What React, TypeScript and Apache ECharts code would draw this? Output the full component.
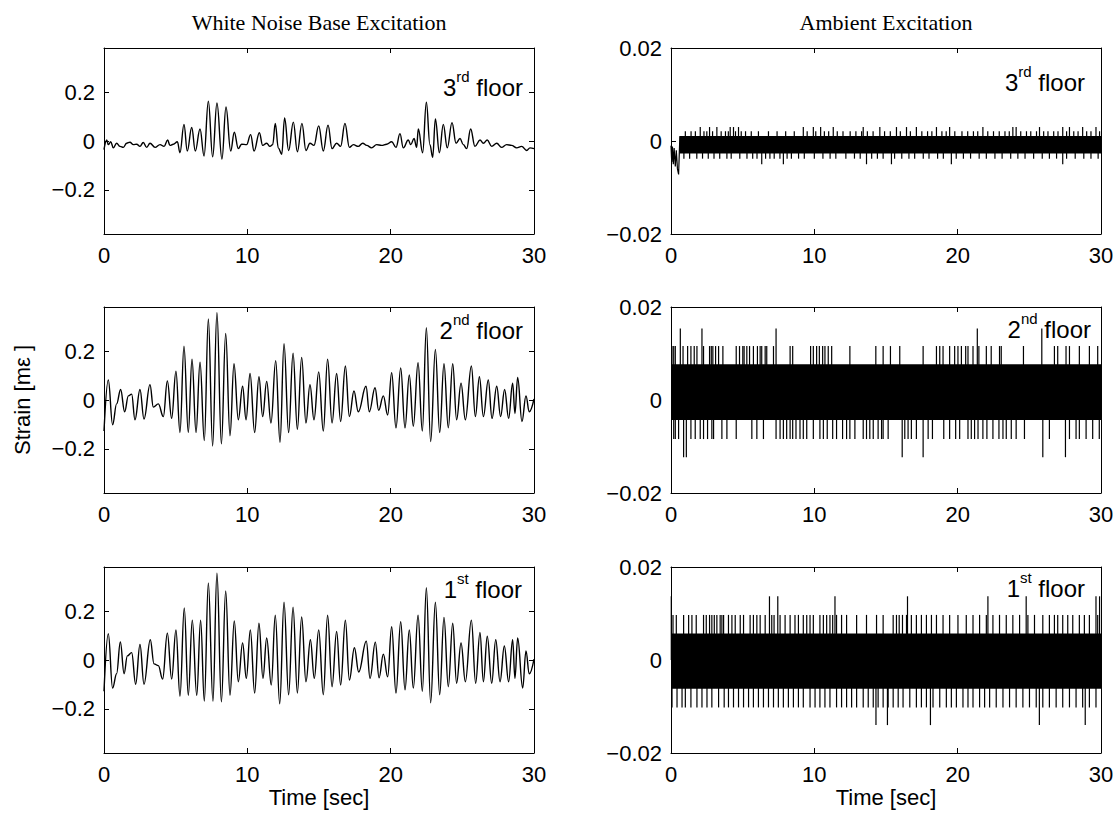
import React, { useEffect, useRef } from "react";
import * as echarts from "echarts";

const SANS = '"Liberation Sans", Arial, Helvetica, sans-serif';
const SERIF = '"Liberation Serif", "Times New Roman", Times, serif';

const timeRange = [0, 30];
const timeInterval = 10;
const baseYTicks = [-0.2, 0, 0.2];
const baseYRange = [-0.38, 0.38];
const ambientYRange = [-0.02, 0.02];
const ambientYInterval = 0.02;
const columnTitles = ["White Noise Base Excitation", "Ambient Excitation"];
const floorNames = [["3", "rd"], ["2", "nd"], ["1", "st"]];
const yAxisTitle = "Strain [m\u03b5 ]";
const xAxisTitle = "Time [sec]";

// White noise base excitation: traced turning points [time (s), strain]
const base3rd = [
  [0.0, -0.035], [0.19, 0.004], [0.3, -0.015], [0.47, -0.003], [0.65, -0.028], [0.88, -0.009], [1.12, -0.022], [1.35, -0.026],
  [1.58, -0.009], [1.81, -0.005], [2.05, -0.015], [2.28, -0.013], [2.51, -0.022], [2.74, -0.006], [2.98, -0.026], [3.21, -0.009],
  [3.56, -0.026], [3.91, -0.015], [4.19, -0.022], [4.44, 0.004], [4.6, -0.018], [4.84, -0.013], [5.12, -0.003], [5.3, -0.048],
  [5.58, 0.068], [5.81, -0.041], [6.12, 0.055], [6.37, -0.041], [6.7, 0.049], [6.98, -0.061], [7.28, 0.163], [7.58, -0.065],
  [7.88, 0.155], [8.23, -0.074], [8.51, 0.139], [8.84, -0.041], [9.09, 0.036], [9.37, -0.031], [9.6, -0.013], [9.95, -0.015],
  [10.23, 0.026], [10.47, -0.041], [10.84, 0.034], [11.07, -0.018], [11.35, -0.009], [11.58, -0.022], [11.77, -0.015], [11.95, 0.072],
  [12.16, -0.028], [12.4, -0.054], [12.6, 0.094], [12.88, -0.039], [13.21, 0.077], [13.49, -0.044], [13.81, 0.072], [14.09, -0.039],
  [14.37, -0.009], [14.65, -0.018], [14.98, 0.062], [15.3, -0.041], [15.63, 0.065], [15.91, -0.031], [16.23, -0.009], [16.51, -0.022],
  [16.81, 0.072], [17.12, -0.026], [17.4, -0.015], [17.74, -0.022], [18.05, -0.009], [18.33, -0.018], [18.67, -0.028], [19.02, -0.015],
  [19.37, -0.018], [19.72, -0.013], [20.07, -0.003], [20.37, -0.026], [20.65, 0.03], [20.88, -0.028], [21.23, 0.004], [21.4, -0.015],
  [21.63, 0.01], [21.81, -0.026], [21.93, 0.049], [22.23, -0.048], [22.49, 0.159], [22.74, -0.015], [22.93, -0.067], [23.12, 0.09],
  [23.4, -0.048], [23.67, 0.068], [23.95, -0.028], [24.28, 0.075], [24.56, -0.009], [24.84, 0.01], [25.07, -0.015], [25.3, -0.031],
  [25.58, 0.049], [25.88, -0.022], [26.23, 0.004], [26.47, -0.009], [26.74, 0.004], [27.05, -0.022], [27.4, -0.009], [27.74, -0.026],
  [28.09, -0.015], [28.44, -0.018], [28.79, -0.028], [29.14, -0.022], [29.49, -0.039], [29.72, -0.028], [30.0, -0.031],
];

const base2nd = [
  [0.0, -0.127], [0.3, 0.082], [0.6, -0.101], [0.88, -0.016], [1.16, 0.043], [1.44, -0.048], [1.7, 0.017], [1.93, 0.024],
  [2.16, -0.081], [2.51, 0.043], [2.79, -0.078], [3.21, 0.063], [3.44, -0.029], [3.79, -0.016], [4.14, -0.068], [4.42, 0.078],
  [4.72, -0.075], [5.02, 0.118], [5.3, -0.133], [5.58, 0.22], [5.88, -0.133], [6.14, 0.167], [6.42, -0.133], [6.7, 0.154],
  [7.0, -0.166], [7.28, 0.331], [7.58, -0.188], [7.88, 0.357], [8.19, -0.179], [8.49, 0.272], [8.79, -0.146], [9.07, 0.148],
  [9.37, -0.081], [9.67, 0.056], [9.91, -0.081], [10.19, 0.108], [10.51, -0.133], [10.81, 0.095], [11.07, -0.068], [11.35, 0.076],
  [11.65, -0.094], [11.98, 0.161], [12.28, -0.173], [12.56, 0.23], [12.88, -0.133], [13.19, 0.191], [13.49, -0.12], [13.79, 0.174],
  [14.09, -0.094], [14.37, 0.063], [14.65, -0.081], [14.98, 0.115], [15.3, -0.127], [15.6, 0.167], [15.91, -0.094], [16.23, 0.108],
  [16.51, -0.088], [16.84, 0.139], [17.12, -0.068], [17.44, 0.037], [17.74, -0.048], [18.28, 0.056], [18.51, -0.048], [18.91, 0.05],
  [19.16, -0.042], [19.49, 0.017], [19.79, -0.061], [20.07, 0.112], [20.37, -0.114], [20.7, 0.131], [21.0, -0.114], [21.3, 0.102],
  [21.58, -0.107], [21.91, 0.152], [22.21, -0.127], [22.49, 0.295], [22.79, -0.17], [23.12, 0.207], [23.42, -0.133], [23.72, 0.148],
  [24.02, -0.114], [24.33, 0.148], [24.6, -0.081], [24.91, 0.069], [25.21, -0.081], [25.63, 0.139], [25.91, -0.068], [26.19, 0.095],
  [26.47, -0.068], [26.81, 0.082], [27.07, -0.075], [27.4, 0.056], [27.67, -0.068], [27.95, 0.043], [28.23, -0.075], [28.51, 0.069],
  [28.67, -0.055], [28.86, 0.092], [29.16, -0.088], [29.44, 0.017], [29.67, -0.048], [30.0, 0.004],
];

const base1st = [
  [0.0, -0.128], [0.3, 0.107], [0.6, -0.115], [0.88, -0.056], [1.14, 0.074], [1.4, -0.056], [1.63, 0.017], [1.93, 0.03],
  [2.21, -0.099], [2.51, 0.064], [2.79, -0.099], [3.23, 0.083], [3.49, -0.016], [3.79, -0.023], [4.09, -0.078], [4.42, 0.11],
  [4.72, -0.078], [5.02, 0.123], [5.3, -0.148], [5.6, 0.213], [5.88, -0.144], [6.16, 0.163], [6.47, -0.144], [6.74, 0.163],
  [7.0, -0.168], [7.28, 0.315], [7.6, -0.168], [7.88, 0.355], [8.19, -0.171], [8.49, 0.282], [8.79, -0.144], [9.09, 0.16],
  [9.37, -0.089], [9.67, 0.07], [9.93, -0.075], [10.21, 0.123], [10.51, -0.135], [10.81, 0.15], [11.09, -0.075], [11.35, 0.09],
  [11.67, -0.102], [11.95, 0.183], [12.26, -0.179], [12.56, 0.236], [12.88, -0.142], [13.19, 0.216], [13.49, -0.135], [13.79, 0.176],
  [14.09, -0.089], [14.4, 0.083], [14.67, -0.075], [14.98, 0.123], [15.3, -0.142], [15.6, 0.183], [15.91, -0.109], [16.23, 0.117],
  [16.51, -0.102], [16.84, 0.163], [17.12, -0.082], [17.47, 0.05], [17.77, -0.049], [18.3, 0.077], [18.56, -0.075], [18.93, 0.073],
  [19.19, -0.073], [19.49, 0.024], [19.79, -0.069], [20.07, 0.136], [20.37, -0.135], [20.7, 0.156], [21.0, -0.122], [21.3, 0.123],
  [21.58, -0.115], [21.91, 0.183], [22.21, -0.128], [22.49, 0.295], [22.79, -0.175], [23.12, 0.236], [23.42, -0.142], [23.72, 0.174],
  [24.02, -0.109], [24.33, 0.15], [24.6, -0.095], [24.91, 0.07], [25.21, -0.089], [25.63, 0.163], [25.93, -0.095], [26.23, 0.113],
  [26.47, -0.089], [26.74, 0.097], [27.05, -0.095], [27.33, 0.083], [27.63, -0.089], [27.93, 0.057], [28.23, -0.089], [28.51, 0.083],
  [28.67, -0.075], [28.86, 0.09], [29.21, -0.115], [29.44, 0.037], [29.67, -0.056], [30.0, 0.004],
];

// Ambient excitation: dense band [low, high], start time, spike times at each quantised level
const amb3Band = [-0.0027, 0.0011];
const amb3BandFrom = 0.6;
const amb3Transient = [
  [0.0, -0.001], [0.05, -0.0045], [0.1, -0.0012], [0.16, -0.005], [0.22, -0.0015], [0.3, -0.0055],
  [0.37, -0.002], [0.45, -0.006], [0.53, -0.0072], [0.58, -0.0025], [0.62, 0.001],
];
const amb3UpLevel = 0.0021;
const amb3UpTimes = [1.0, 1.4, 1.7, 2.3, 2.5, 2.9, 3.5, 3.8, 4.0, 4.5, 4.9, 5.2, 5.6, 6.1, 6.8, 7.4, 8.0, 8.6, 9.5, 10.1, 10.7, 11.0, 11.6, 12.0, 12.5, 12.9, 13.3, 13.7, 14.1, 14.9, 15.3, 16.0, 16.7, 17.5, 17.9, 18.2, 18.9, 19.2, 19.8, 20.3, 20.7, 21.1, 21.4, 22.1, 22.5, 22.9, 23.3, 23.6, 24.4, 24.8, 25.1, 25.5, 26.0, 26.3, 26.7, 27.0, 27.6, 28.1, 28.4, 29.0, 29.3, 29.9];
const amb3PeakLevel = 0.003;
const amb3PeakTimes = [2.04, 2.69, 3.2, 4.13, 4.36, 4.71, 9.23, 9.93, 10.44, 11.32, 13.41, 14.57, 15.73, 16.43, 17.12, 18.52, 19.44, 21.76, 23.85, 24.08, 25.71, 27.33, 27.8, 28.72, 29.65];
const amb3DownLevel = -0.0038;
const amb3DownTimes = [0.9, 1.3, 1.8, 2.2, 2.6, 3.0, 3.4, 3.9, 4.2, 4.8, 5.3, 5.7, 6.0, 6.6, 6.9, 7.2, 7.6, 8.1, 8.4, 8.9, 9.3, 10.0, 10.6, 11.1, 11.5, 12.2, 12.8, 13.2, 14.0, 14.4, 14.8, 15.6, 16.1, 16.6, 17.0, 17.6, 18.0, 18.6, 19.0, 19.9, 20.4, 20.9, 21.5, 22.0, 22.6, 23.1, 23.7, 24.2, 24.7, 25.3, 25.9, 26.4, 26.9, 27.6, 28.2, 28.8, 29.3, 29.8];
const amb3DeepLevel = -0.005;
const amb3DeepTimes = [6.33, 7.84, 13.64, 15.38, 19.56, 27.33];

const amb2Band = [-0.0043, 0.0077];
const amb2UpLevel = 0.0116;
const amb2UpTimes = [0.07, 0.19, 0.3, 0.84, 1.16, 1.39, 1.62, 1.81, 2.27, 2.69, 2.81, 2.92, 3.11, 3.32, 3.62, 4.55, 4.78, 5.01, 5.1, 5.29, 5.48, 5.75, 6.03, 6.22, 6.33, 6.57, 6.68, 7.15, 8.31, 8.49, 9.74, 9.93, 10.16, 10.35, 10.58, 10.74, 10.97, 11.21, 12.48, 14.29, 14.8, 15.31, 15.96, 17.59, 18.52, 18.75, 18.98, 19.44, 19.79, 20.02, 20.26, 20.56, 20.72, 21.07, 21.48, 22.0, 22.34, 22.92, 23.04, 24.59, 26.75, 26.98, 27.56, 27.8, 28.49, 29.19, 29.77];
const amb2PeakLevel = 0.0154;
const amb2PeakTimes = [0.65, 2.16, 7.33, 21.37, 25.87];
const amb2DownLevel = -0.0084;
const amb2DownTimes = [0.19, 0.3, 0.53, 1.39, 1.69, 2.04, 2.27, 2.55, 2.85, 2.97, 3.55, 3.9, 4.55, 5.64, 5.99, 6.45, 7.33, 7.61, 7.84, 8.07, 8.31, 8.49, 8.72, 9.0, 9.23, 9.47, 9.93, 10.39, 10.63, 10.9, 11.28, 11.55, 11.97, 12.25, 12.48, 12.83, 13.41, 13.64, 13.87, 14.11, 14.45, 14.69, 14.8, 15.15, 16.31, 16.54, 16.77, 17.12, 17.94, 18.24, 19.03, 19.44, 19.86, 20.14, 20.72, 20.95, 21.18, 21.42, 21.76, 22.04, 22.46, 22.88, 23.16, 23.39, 23.74, 24.08, 24.66, 26.4, 27.8, 28.26, 28.49, 28.96, 29.42, 29.88];
const amb2DeepLevel = -0.0123;
const amb2DeepTimes = [0.88, 1.07, 16.13, 17.59, 25.94, 27.52];

const amb1Band = [-0.0062, 0.0057];
const amb1UpLevel = 0.0097;
const amb1UpTimes = [0.14, 0.37, 0.88, 1.23, 1.46, 1.76, 2.27, 2.46, 2.69, 2.85, 3.02, 3.2, 3.43, 3.55, 3.67, 4.01, 4.25, 4.48, 4.83, 5.06, 5.52, 5.75, 5.99, 6.22, 6.57, 7.03, 7.19, 7.61, 7.96, 8.31, 8.65, 8.89, 9.23, 9.47, 9.7, 9.93, 10.39, 10.63, 10.86, 11.09, 11.28, 11.55, 11.9, 12.25, 12.95, 13.64, 14.34, 14.8, 15.5, 15.73, 15.92, 16.15, 16.43, 16.77, 17.12, 17.47, 17.82, 18.17, 18.52, 18.98, 19.44, 20.02, 20.6, 21.07, 21.53, 22.0, 22.46, 22.92, 23.39, 23.85, 24.32, 24.9, 25.36, 25.94, 26.4, 26.75, 26.98, 27.33, 27.68, 28.03, 28.49, 28.84, 29.19, 29.77];
const amb1PeakLevel = 0.0137;
const amb1PeakTimes = [0.02, 6.87, 7.45, 11.44, 16.5, 22.11, 24.78, 29.65, 29.9];
const amb1DownLevel = -0.0102;
const amb1DownTimes = [0.07, 0.42, 0.77, 1.0, 1.39, 1.81, 2.16, 2.51, 2.85, 3.32, 3.71, 4.01, 4.36, 4.71, 5.06, 5.41, 5.75, 6.1, 6.45, 6.8, 7.15, 7.49, 7.84, 8.19, 8.54, 8.89, 9.23, 9.7, 10.05, 10.39, 10.74, 11.09, 11.55, 11.9, 12.25, 12.6, 12.95, 13.41, 13.76, 14.11, 14.45, 14.8, 15.15, 15.5, 15.85, 16.19, 16.66, 17.12, 17.47, 17.82, 18.28, 18.75, 19.21, 19.56, 19.91, 20.37, 20.72, 21.07, 21.53, 21.88, 22.23, 22.69, 23.16, 23.62, 24.08, 24.55, 25.01, 25.48, 25.94, 26.4, 26.87, 27.33, 27.8, 28.26, 28.72, 29.19, 29.65];
const amb1DeepLevel = -0.014;
const amb1DeepTimes = [14.3, 15.1, 18.1, 25.7, 28.9];

// Layout (pixels)
const GRID_LEFT = [104, 671];
const GRID_TOP = [48, 307, 567];
const GRID_W = 430;
const GRID_H = 186;
const FLOOR_LABEL_POS = [
  [[523, 84], [1085, 79]],
  [[523, 327], [1091, 326]],
  [[522, 586], [1085, 585]],
];

const at = (times: number[], level: number) => times.map((t) => [t, level]);

function buildOption() {
  const grids: any[] = [];
  const xAxes: any[] = [];
  const yAxes: any[] = [];
  const series: any[] = [];
  const graphics: any[] = [];

  const base = [base3rd, base2nd, base1st];
  const ambient = [
    {
      band: amb3Band, from: amb3BandFrom, transient: amb3Transient,
      spikes: [...at(amb3UpTimes, amb3UpLevel), ...at(amb3PeakTimes, amb3PeakLevel), ...at(amb3DownTimes, amb3DownLevel), ...at(amb3DeepTimes, amb3DeepLevel)],
    },
    {
      band: amb2Band, from: 0, transient: null,
      spikes: [...at(amb2UpTimes, amb2UpLevel), ...at(amb2PeakTimes, amb2PeakLevel), ...at(amb2DownTimes, amb2DownLevel), ...at(amb2DeepTimes, amb2DeepLevel)],
    },
    {
      band: amb1Band, from: 0, transient: null,
      spikes: [...at(amb1UpTimes, amb1UpLevel), ...at(amb1PeakTimes, amb1PeakLevel), ...at(amb1DownTimes, amb1DownLevel), ...at(amb1DeepTimes, amb1DeepLevel)],
    },
  ];

  const axisLine = { show: true, onZero: false, lineStyle: { color: "#000", width: 1 } };
  const tickStyle = { color: "#000", width: 1 };
  const labelStyle = { color: "#000", fontSize: 22, fontFamily: SANS };

  for (let r = 0; r < 3; r++) {
    for (let c = 0; c < 2; c++) {
      const g = r * 2 + c;
      grids.push({ left: GRID_LEFT[c], top: GRID_TOP[r], width: GRID_W, height: GRID_H, show: false, containLabel: false });
      xAxes.push({
        gridIndex: g, type: "value", position: "bottom", min: timeRange[0], max: timeRange[1], interval: timeInterval,
        axisLine, axisTick: { inside: true, length: 5, lineStyle: tickStyle },
        axisLabel: { ...labelStyle, margin: 10, showMinLabel: true, showMaxLabel: true }, splitLine: { show: false },
      });
      xAxes.push({
        gridIndex: g, type: "value", position: "top", min: timeRange[0], max: timeRange[1], interval: timeInterval,
        axisLine, axisTick: { inside: true, length: 5, lineStyle: tickStyle }, axisLabel: { show: false }, splitLine: { show: false },
      });
      if (c === 0) {
        const fmt = (v: number) => (v === 0 ? "0" : (v < 0 ? "\u2212" : "") + String(Math.abs(v)));
        yAxes.push({
          gridIndex: g, type: "value", position: "left", min: baseYRange[0], max: baseYRange[1],
          axisLine, axisTick: { inside: true, length: 5, lineStyle: tickStyle, customValues: baseYTicks },
          axisLabel: { ...labelStyle, margin: 9, customValues: baseYTicks, formatter: fmt }, splitLine: { show: false },
        });
        yAxes.push({
          gridIndex: g, type: "value", position: "right", min: baseYRange[0], max: baseYRange[1],
          axisLine, axisTick: { inside: true, length: 5, lineStyle: tickStyle, customValues: baseYTicks },
          axisLabel: { show: false }, splitLine: { show: false },
        });
        series.push({
          type: "line", xAxisIndex: 2 * g, yAxisIndex: 2 * g, data: base[r], symbol: "none", showSymbol: false,
          smooth: 0.4, smoothMonotone: "x", lineStyle: { color: "#000", width: 1.4 }, silent: true,
        });
      } else {
        const fmt = (v: number) => (Math.abs(v) < 1e-9 ? "0" : (v < 0 ? "\u2212" : "") + Math.abs(v).toFixed(2));
        yAxes.push({
          gridIndex: g, type: "value", position: "left", min: ambientYRange[0], max: ambientYRange[1], interval: ambientYInterval,
          axisLine, axisTick: { inside: true, length: 5, lineStyle: tickStyle },
          axisLabel: { ...labelStyle, margin: 9, formatter: fmt, showMinLabel: true, showMaxLabel: true }, splitLine: { show: false },
        });
        yAxes.push({
          gridIndex: g, type: "value", position: "right", min: ambientYRange[0], max: ambientYRange[1], interval: ambientYInterval,
          axisLine, axisTick: { inside: true, length: 5, lineStyle: tickStyle }, axisLabel: { show: false }, splitLine: { show: false },
        });
        const a = ambient[r];
        series.push({
          type: "bar", xAxisIndex: 2 * g, yAxisIndex: 2 * g, data: a.spikes, barWidth: 1.2,
          itemStyle: { color: "#000" }, silent: true,
          markArea: {
            silent: true, itemStyle: { color: "#000", opacity: 1 },
            data: [[{ coord: [a.from, a.band[0]] }, { coord: [timeRange[1], a.band[1]] }]],
          },
        });
        if (a.transient) {
          series.push({
            type: "line", xAxisIndex: 2 * g, yAxisIndex: 2 * g, data: a.transient, symbol: "none", showSymbol: false,
            lineStyle: { color: "#000", width: 1.2 }, silent: true,
          });
        }
      }

      // floor label
      const [num, sup] = floorNames[r];
      const [lx, ly] = FLOOR_LABEL_POS[r][c];
      graphics.push({
        type: "text", x: lx, y: ly, z: 100,
        style: {
          text: `{n|${num}}{s|${sup}}{n| floor}`,
          align: "right", verticalAlign: "middle", textAlign: "right", textVerticalAlign: "middle",
          rich: {
            n: { fontSize: 24, fontFamily: SANS, fill: "#000", lineHeight: 30, verticalAlign: "bottom" },
            s: { fontSize: 15, fontFamily: SANS, fill: "#000", lineHeight: 15, verticalAlign: "top" },
          },
        },
      });
    }
  }

  // column titles
  columnTitles.forEach((t, c) => {
    graphics.push({
      type: "text", x: GRID_LEFT[c] + GRID_W / 2, y: 22, z: 100,
      style: { text: t, fontSize: 22, fontFamily: SERIF, fill: "#000", align: "center", verticalAlign: "middle", textAlign: "center", textVerticalAlign: "middle" },
    });
    graphics.push({
      type: "text", x: GRID_LEFT[c] + GRID_W / 2, y: 797, z: 100,
      style: { text: xAxisTitle, fontSize: 22, fontFamily: SANS, fill: "#000", align: "center", verticalAlign: "middle", textAlign: "center", textVerticalAlign: "middle" },
    });
  });
  graphics.push({
    type: "text", x: 22, y: GRID_TOP[1] + GRID_H / 2, rotation: Math.PI / 2, z: 100,
    style: { text: yAxisTitle, fontSize: 22, fontFamily: SANS, fill: "#000", align: "center", verticalAlign: "middle", textAlign: "center", textVerticalAlign: "middle" },
  });

  return {
    animation: false,
    backgroundColor: "#fff",
    grid: grids,
    xAxis: xAxes,
    yAxis: yAxes,
    series,
    graphic: graphics,
  };
}

export default function App() {
  const ref = useRef<HTMLDivElement>(null);
  useEffect(() => {
    document.body.style.margin = "0";
    const chart = echarts.init(ref.current as HTMLDivElement, null, { renderer: "svg" });
    chart.setOption(buildOption() as any);
    return () => chart.dispose();
  }, []);
  return <div ref={ref} style={{ width: 1117, height: 816 }} />;
}
